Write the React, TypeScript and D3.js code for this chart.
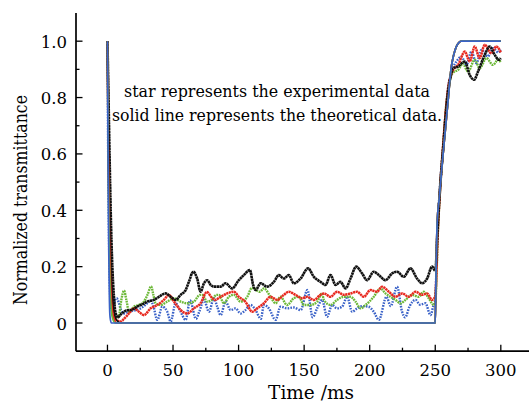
import React from "react";
import * as d3 from "d3";

type P = [number, number];

const xMajorTicks = [0, 50, 100, 150, 200, 250, 300];
const xMinorTicks = [25, 75, 125, 175, 225, 275];
const yMajorTicks = [0, 0.2, 0.4, 0.6, 0.8, 1.0];
const yMajorLabels = ["0", "0.2", "0.4", "0.6", "0.8", "1.0"];
const yMinorTicks = [0.1, 0.3, 0.5, 0.7, 0.9];

const xTitle = "Time /ms";
const yTitle = "Normalized transmittance";
const note1 = "star represents the experimental data";
const note2 = "solid line represents the theoretical data.";

// experimental (star) data
const blackExp: P[] = [
  [0, 1.0], [1, 0.75], [2, 0.5], [3, 0.3], [4, 0.17], [5, 0.09], [6, 0.04], [8, 0.02], [10, 0.03],
  [12.6, 0.04], [15, 0.045], [17.7, 0.046], [20, 0.05], [22.7, 0.058], [25.3, 0.064], [28, 0.07],
  [30.3, 0.076], [35.4, 0.082], [39.2, 0.093], [44.4, 0.105], [48.2, 0.093], [52, 0.082], [55.8, 0.1],
  [59.6, 0.117], [62.1, 0.146], [65.4, 0.182], [68.4, 0.158], [71, 0.111], [73.6, 0.141], [76.1, 0.152],
  [78.7, 0.135], [81.2, 0.129], [86.3, 0.129], [90.1, 0.141], [95.1, 0.123], [100.2, 0.152], [104, 0.17],
  [108.6, 0.188], [111.1, 0.135], [113, 0.117], [116.8, 0.141], [121.8, 0.129], [126.9, 0.146],
  [130.7, 0.17], [134.5, 0.158], [138.3, 0.17], [142.1, 0.141], [147.3, 0.158], [153, 0.194],
  [157.4, 0.164], [162.5, 0.146], [166.3, 0.135], [170.1, 0.17], [174, 0.135], [177.7, 0.146],
  [181.6, 0.123], [185.4, 0.158], [189.7, 0.2], [194.2, 0.176], [198, 0.152], [203.1, 0.182], [207, 0.17],
  [212, 0.152], [217.1, 0.176], [220.9, 0.182], [226, 0.164], [231.1, 0.194], [236.1, 0.158], [240, 0.141],
  [243.8, 0.158], [247.6, 0.2], [250, 0.185], [252, 0.35], [254, 0.5], [256, 0.62], [258, 0.74], [260, 0.83],
  [262, 0.88], [263.6, 0.904], [267.4, 0.91], [272.5, 0.928], [276.3, 0.88], [279.6, 0.863], [282.6, 0.892],
  [287.7, 0.951], [291.5, 0.981], [295.4, 0.951], [298.4, 0.934], [300, 0.94],
];

const redExp: P[] = [
  [0, 1.0], [1, 0.6], [2, 0.33], [3, 0.16], [4, 0.07], [5, 0.025], [7, 0.01], [10, 0.005], [12.6, 0.015],
  [16.4, 0.034], [20.2, 0.052], [24, 0.04], [27.8, 0.028], [32.9, 0.052], [38, 0.064], [43, 0.082],
  [46.9, 0.1], [50.7, 0.076], [55.8, 0.046], [60.8, 0.034], [65.9, 0.052], [71, 0.07], [75.8, 0.11],
  [79.9, 0.088], [82, 0.082], [86.3, 0.093], [91.3, 0.105], [96.4, 0.111], [100.2, 0.093], [105.3, 0.075],
  [110.4, 0.04], [114.2, 0.052], [119.3, 0.07], [124.4, 0.093], [129.4, 0.082], [134.5, 0.1], [138.3, 0.111],
  [143.4, 0.1], [148.5, 0.088], [152.3, 0.093], [157.4, 0.082], [162.5, 0.1], [165, 0.105], [170.1, 0.093],
  [175.1, 0.111], [180.3, 0.1], [185.4, 0.105], [190.4, 0.111], [195.5, 0.093], [200.6, 0.117],
  [205.6, 0.111], [209.4, 0.129], [214.6, 0.111], [219.7, 0.093], [224.7, 0.105], [229.8, 0.093],
  [234.9, 0.111], [240, 0.1], [243.8, 0.105], [247.6, 0.082], [250, 0.095], [252, 0.33], [254, 0.5],
  [256, 0.63], [258, 0.75], [260, 0.84], [262, 0.88], [264, 0.9], [267.4, 0.916], [272.5, 0.963],
  [276.3, 0.928], [280.1, 0.981], [283.9, 0.94], [287.7, 0.987], [292.8, 0.957], [296.6, 0.981], [300, 0.96],
];

const greenExp: P[] = [
  [0, 1.0], [1, 0.55], [2, 0.25], [3, 0.1], [4, 0.04], [6, 0.02], [8.8, 0.028], [10.5, 0.08], [12.6, 0.115],
  [14.5, 0.08], [16.4, 0.04], [20.2, 0.058], [24, 0.064], [27.8, 0.076], [30.5, 0.1], [33.3, 0.13],
  [35, 0.1], [36.7, 0.07], [40.5, 0.064], [45.6, 0.076], [50.7, 0.088], [55.8, 0.076], [60.8, 0.07],
  [65.9, 0.076], [70.5, 0.1], [72.3, 0.1], [76.1, 0.076], [79, 0.08], [83.2, 0.1], [85, 0.1], [88.8, 0.07],
  [92.6, 0.093], [96.4, 0.1], [101.5, 0.076], [106.6, 0.093], [110.2, 0.125], [116.2, 0.111],
  [119.3, 0.123], [124.4, 0.093], [128.2, 0.07], [132, 0.093], [137, 0.064], [142.1, 0.088], [146, 0.093],
  [149.8, 0.064], [154.9, 0.064], [159.9, 0.076], [163.7, 0.105], [165, 0.082], [170.1, 0.064],
  [175.1, 0.082], [180.3, 0.093], [185.4, 0.093], [189.2, 0.076], [193, 0.052], [196.8, 0.064],
  [203.1, 0.093], [208.2, 0.123], [212, 0.105], [215.9, 0.093], [219.7, 0.082], [223.5, 0.07],
  [227.3, 0.082], [232.3, 0.1], [237.4, 0.093], [241.2, 0.111], [245, 0.088], [248.9, 0.064], [250, 0.07],
  [252, 0.32], [254, 0.5], [256, 0.62], [258.5, 0.78], [260, 0.83], [262.3, 0.88], [264, 0.89],
  [267.4, 0.898], [271, 0.92], [275, 0.892], [280.1, 0.934], [283.9, 0.904], [289, 0.94], [294, 0.916],
  [298, 0.934], [300, 0.925],
];

const blueExp: P[] = [
  [0, 1.0], [0.7, 0.5], [1.5, 0.2], [2.5, 0.06], [4, 0.04], [5.7, 0.082], [7, 0.088], [8.8, 0.07], [10, 0.05],
  [12.6, 0.034], [16.4, 0.04], [21.5, 0.046], [25.3, 0.052], [30.3, 0.07], [33, 0.08], [35, 0.06],
  [38, 0.011], [41.8, 0.058], [45.6, 0.04], [48.2, 0.005], [52, 0.07], [55.8, 0.04], [59.6, 0.011],
  [63, 0.08], [67.5, 0.015], [70, 0.04], [73.6, 0.082], [77.4, 0.04], [81.2, 0.088], [83.7, 0.058],
  [86.3, 0.028], [90.1, 0.076], [93.9, 0.046], [97.7, 0.052], [101.5, 0.034], [105, 0.045], [109.1, 0.064],
  [112.5, 0.05], [117, 0.015], [119.3, 0.064], [123.1, 0.052], [128.2, 0.011], [132, 0.058], [137, 0.052],
  [142, 0.055], [147.3, 0.046], [152.5, 0.117], [156.5, 0.02], [159.9, 0.052], [163.7, 0.082],
  [167.5, 0.022], [171.3, 0.064], [175.1, 0.052], [179, 0.058], [182.8, 0.093], [186.6, 0.04],
  [190.4, 0.052], [194.5, 0.06], [199, 0.058], [203.1, 0.04], [207, 0.011], [212.8, 0.093], [216, 0.06],
  [220.9, 0.129], [224.7, 0.04], [227, 0.02], [230.5, 0.06], [234.9, 0.082], [238.5, 0.065], [242.5, 0.07],
  [246.4, 0.028], [248.5, 0.06], [250, 0.08], [251.5, 0.3], [253.5, 0.48], [256, 0.62], [258, 0.74],
  [260, 0.84], [262, 0.88], [264, 0.91], [266.2, 0.928], [270, 0.945], [273.8, 0.916], [277.6, 0.963],
  [281.4, 0.922], [285.2, 0.969], [290.2, 0.946], [294, 0.975], [298, 0.96], [300, 0.97],
];

// theoretical (solid) curves
const riseTheory: P[] = [
  [250, 0], [250.5, 0.15], [251.5, 0.36], [253, 0.44], [255, 0.55], [257.8, 0.69], [260, 0.8],
  [262, 0.9], [264, 0.95], [266, 0.98], [268, 0.995], [270, 1.0], [300, 1.0],
];
const blackTheory: P[] = [
  [0, 1.0], [0.5, 0.72], [1, 0.52], [1.5, 0.37], [2, 0.27], [2.5, 0.19], [3, 0.14], [4, 0.075],
  [5, 0.04], [6, 0.02], [8, 0.005], [10, 0], ...riseTheory,
];
const redTheory: P[] = [
  [0, 1.0], [0.5, 0.66], [1, 0.44], [1.5, 0.29], [2, 0.19], [3, 0.08], [4, 0.035], [5, 0.015], [7, 0],
  ...riseTheory,
];
const greenTheory: P[] = [
  [0, 1.0], [0.5, 0.6], [1, 0.36], [1.5, 0.21], [2, 0.12], [3, 0.04], [4, 0.015], [6, 0], ...riseTheory,
];
const blueTheory: P[] = [
  [0, 1.0], [0.5, 0.55], [1, 0.25], [1.5, 0.08], [2, 0.02], [3, 0], ...riseTheory,
];

const BLACK = "#111111";
const RED = "#e8291f";
const GREEN = "#6cb838";
const BLUE = "#3a62c8";

const W = 529;
const H = 403;
const FONT = "'DejaVu Serif', serif";

export default function App() {
  const x = d3.scaleLinear().domain([-24, 321.5]).range([76, 529]);
  const y = d3.scaleLinear().domain([-0.1, 1.1]).range([351.2, 13]);

  const line = d3
    .line<P>()
    .x((d) => x(d[0]))
    .y((d) => y(d[1]))
    .curve(d3.curveMonotoneX);

  const exp = [
    { data: blueExp, color: BLUE, dash: "1.6 1.2", w: 2.4 },
    { data: greenExp, color: GREEN, dash: "1.8 0.8", w: 2.4 },
    { data: redExp, color: RED, dash: "2.2 0.5", w: 2.5 },
    { data: blackExp, color: BLACK, dash: "2.4 0.4", w: 2.6 },
  ];
  const theo = [
    { data: blackTheory, color: BLACK },
    { data: redTheory, color: RED },
    { data: greenTheory, color: GREEN },
    { data: blueTheory, color: BLUE },
  ];

  const x0 = x(-24);
  const y0 = y(-0.1);

  return (
    <svg
      width={W}
      height={H}
      style={{ position: "absolute", left: 0, top: 0, background: "#fff" }}
      fontFamily={FONT}
    >
      <rect x={0} y={0} width={W} height={H} fill="#fff" />

      {exp.map((s, i) => (
        <path
          key={"e" + i}
          d={line(s.data) || ""}
          fill="none"
          stroke={s.color}
          strokeWidth={s.w}
          strokeDasharray={s.dash}
        />
      ))}
      {theo.map((s, i) => (
        <path
          key={"t" + i}
          d={line(s.data) || ""}
          fill="none"
          stroke={s.color}
          strokeWidth={1.7}
        />
      ))}

      {/* axes */}
      <line x1={x0} x2={x(321.5)} y1={y0} y2={y0} stroke="#000" strokeWidth={1.7} />
      <line x1={x0} x2={x0} y1={y0} y2={y(1.1)} stroke="#000" strokeWidth={1.7} />

      {xMajorTicks.map((t) => (
        <g key={"xm" + t}>
          <line x1={x(t)} x2={x(t)} y1={y0} y2={y0 - 6.5} stroke="#000" strokeWidth={1.3} />
          <text x={x(t)} y={376} fontSize={16.5} textAnchor="middle" fill="#000">
            {t}
          </text>
        </g>
      ))}
      {xMinorTicks.map((t) => (
        <line key={"xn" + t} x1={x(t)} x2={x(t)} y1={y0} y2={y0 - 3.5} stroke="#000" strokeWidth={1.3} />
      ))}

      {yMajorTicks.map((t, i) => (
        <g key={"ym" + t}>
          <line x1={x0} x2={x0 + 6.5} y1={y(t)} y2={y(t)} stroke="#000" strokeWidth={1.3} />
          <text x={67} y={y(t) + 6.5} fontSize={16.5} textAnchor="end" fill="#000">
            {yMajorLabels[i]}
          </text>
        </g>
      ))}
      {yMinorTicks.map((t) => (
        <line key={"yn" + t} x1={x0} x2={x0 + 3.5} y1={y(t)} y2={y(t)} stroke="#000" strokeWidth={1.3} />
      ))}

      <text x={311} y={399} fontSize={18.5} textAnchor="middle" fill="#000">
        {xTitle}
      </text>
      <text
        transform="translate(27,200) rotate(-90)"
        fontSize={18}
        textAnchor="middle"
        fill="#000"
        textLength={210}
        lengthAdjust="spacingAndGlyphs"
      >
        {yTitle}
      </text>

      <text x={277} y={97} fontSize={16} textAnchor="middle" fill="#000" textLength={306} lengthAdjust="spacingAndGlyphs">
        {note1}
      </text>
      <text x={277} y={121} fontSize={16} textAnchor="middle" fill="#000" textLength={330} lengthAdjust="spacingAndGlyphs">
        {note2}
      </text>
    </svg>
  );
}
